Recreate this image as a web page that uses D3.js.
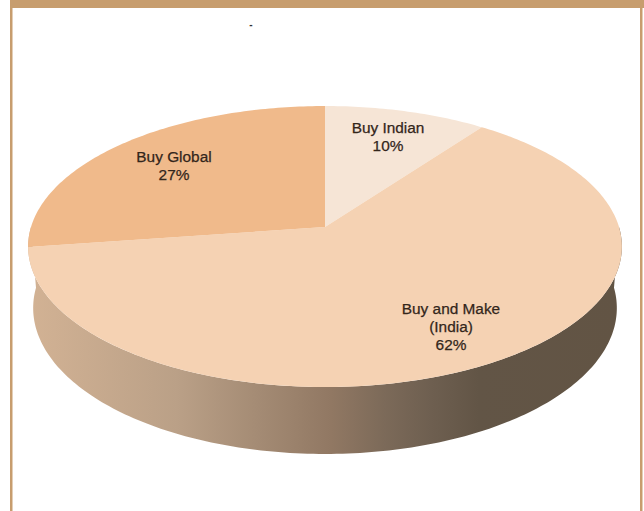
<!DOCTYPE html>
<html>
<head>
<meta charset="utf-8">
<style>
  html, body { margin: 0; padding: 0; background: #fff; }
  svg { display: block; }
  text { font-family: "Liberation Sans", Arial, sans-serif; }
</style>
</head>
<body>
<svg id="chart" width="644" height="511"></svg>
<script src="https://cdn.jsdelivr.net/npm/d3@7"></script>
<script>
// Sourcing split, in percent
const categories = ["Buy Indian", "Buy and Make", "Buy Global"];
const shares = [10, 62, 27];
const labelLines = [["Buy Indian", "10%"], ["Buy and Make", "(India)", "62%"], ["Buy Global", "27%"]];
const faceColors = ["#f6e5d6", "#f5d2b3", "#f0ba8b"];

const svg = d3.select("#chart");
const W = 644, H = 511;

// Perspective of the disc: a unit circle seen from the front, tilted back.
const tilt = 0.139;
const scaleX = d3.scaleLinear().domain([-1, 1]).range([325 - 294, 325 + 294]);
const scaleY = d3.scaleLinear().domain([-1, 1]).range([227 - 137.8, 227 + 137.8]);

function project(angle, radius = 1, drop = 0, shrinkX = 1, shrinkY = 1) {
  const X = Math.sin(angle) * radius;
  const Y = -Math.cos(angle) * radius;
  const w = 1 - tilt * Y;
  const cx = scaleX(0), cy = scaleY(0);
  return [
    cx + (scaleX(X) - cx) / w * shrinkX,
    cy + (scaleY(Y) - cy) / w * shrinkY + drop
  ];
}

const line = d3.line();
const pieLayout = d3.pie().sort(null);
const slices = pieLayout(shares);

// Page frame
const frame = "#c79d6e";
svg.append("rect").attr("x", 10).attr("y", 0).attr("width", W - 10).attr("height", 8).attr("fill", frame);
svg.append("rect").attr("x", 10).attr("y", 8).attr("width", 2.5).attr("height", H - 8).attr("fill", frame);
svg.append("rect").attr("x", 640).attr("y", 8).attr("width", 2.5).attr("height", H - 8).attr("fill", frame);

svg.append("text").attr("x", 251).attr("y", 28).attr("text-anchor", "middle")
  .attr("font-size", 10).attr("font-weight", "bold").attr("fill", "#333").text("-");

// Side wall shading, lit from the left
const defs = svg.append("defs");
const grad = defs.append("linearGradient").attr("id", "wall")
  .attr("gradientUnits", "userSpaceOnUse")
  .attr("x1", 30).attr("x2", 620).attr("y1", 0).attr("y2", 0);
[[0, "#d2b294"], [0.25, "#baa087"], [0.38, "#a58c75"], [0.51, "#917863"], [0.6, "#7c6a59"], [0.68, "#6e5f50"], [0.76, "#625546"], [1, "#625444"]]
  .forEach(([o, c]) => grad.append("stop").attr("offset", o).attr("stop-color", c));

// Wall outline: lower half of the top rim, then the lower half of the bottom rim reversed
const lowerHalf = d3.range(90, 270.01, 1).map(d => d * Math.PI / 180);
const rimTop = lowerHalf.map(a => project(a));
const rimBottom = lowerHalf.map(a => project(a, 1, 60.7, 0.983, 1.039)).reverse();
svg.append("path")
  .attr("d", line(rimTop.concat(rimBottom)) + "Z")
  .attr("fill", "url(#wall)");

// Top face wedges
slices.forEach((s, i) => {
  const n = Math.max(2, Math.ceil((s.endAngle - s.startAngle) * 60));
  const arc = d3.range(n + 1).map(k => project(s.startAngle + (s.endAngle - s.startAngle) * k / n));
  svg.append("path")
    .attr("d", line([project(0, 0), ...arc]) + "Z")
    .attr("fill", faceColors[i]);
});

// Slice labels
const labelAnchors = [[388, 133], [451, 314], [174, 162]];
labelLines.forEach((lines, i) => {
  const t = svg.append("text")
    .attr("text-anchor", "middle")
    .attr("font-size", 15.4)
    .attr("fill", "#33261b")
    .attr("stroke", "#33261b")
    .attr("stroke-width", 0.25);
  lines.forEach((l, j) => {
    t.append("tspan")
      .attr("x", labelAnchors[i][0])
      .attr("y", labelAnchors[i][1] + j * 18)
      .text(l);
  });
});
</script>
</body>
</html>
